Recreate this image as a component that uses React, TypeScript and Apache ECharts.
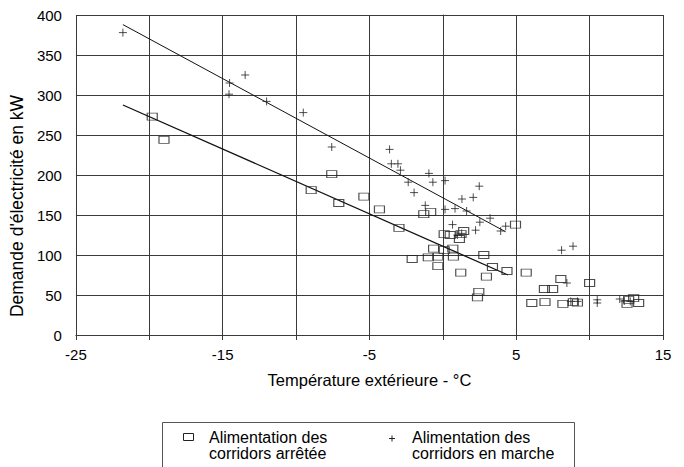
import React, { useEffect, useRef } from "react";
import * as echarts from "echarts";

const xTickValues = [-25, -15, -5, 5, 15];

const seriesNames = [
  "Alimentation des\ncorridors arrêtée",
  "Alimentation des\ncorridors en marche",
];

// [température °C, demande kW]
const corridorsArretee: [number, number][] = [
  [-19.8, 273], [-19.0, 244], [-8.97, 181], [-7.57, 201], [-7.09, 165],
  [-5.38, 173], [-4.32, 157], [-2.99, 134], [-1.3, 151], [-0.83, 154],
  [-0.63, 108], [-2.09, 95], [-0.99, 97], [-0.34, 98], [-0.34, 86],
  [0.09, 126], [0.5, 125], [1.24, 126], [1.13, 120], [1.42, 130],
  [0.09, 106], [0.68, 108], [0.72, 98], [2.79, 100], [3.38, 85],
  [4.37, 80], [1.22, 78], [2.97, 73], [4.95, 138], [5.68, 78],
  [2.45, 54], [2.36, 47], [6.06, 40], [6.96, 41], [8.04, 70],
  [10.0, 65], [6.92, 57.5], [7.48, 57.5], [8.18, 39], [8.89, 41],
  [9.17, 40.5], [12.55, 39], [12.66, 44], [13.0, 46], [13.34, 40],
];

const corridorsEnMarche: [number, number][] = [
  [-21.8, 378], [-14.53, 315], [-13.47, 325], [-14.57, 301], [-12.01, 292],
  [-9.51, 278], [-7.57, 235], [-3.63, 232], [-3.51, 214], [-3.06, 214],
  [-2.89, 206], [-2.36, 191], [-1.96, 178], [-0.95, 202], [-0.68, 191],
  [-1.2, 162], [0.15, 193], [2.48, 186], [1.3, 170], [2.07, 172],
  [0.15, 157], [0.83, 158], [1.62, 155], [2.52, 141], [3.22, 146],
  [0.66, 138], [2.23, 131], [4.28, 136], [3.94, 130], [0.99, 125],
  [1.28, 127], [8.09, 106], [8.87, 111], [8.45, 65], [8.72, 42],
  [9.17, 42], [10.52, 44], [10.52, 40], [12.05, 45], [12.36, 42.5],
  [12.77, 42],
];

// regression lines (end points)
const tendanceArretee: [number, number][] = [[-21.8, 287.5], [4.44, 75]];
const tendanceEnMarche: [number, number][] = [[-21.8, 388], [4.28, 129]];

const FONT = "'Liberation Sans', Arial, Helvetica, sans-serif";
const plusPath = "path://M0,5L10,5M5,0L5,10";

export default function App() {
  const ref = useRef<HTMLDivElement>(null);

  useEffect(() => {
    if (!ref.current) return;
    const chart = echarts.init(ref.current, undefined, { renderer: "svg" });
    const gridColor = "#3a3a3a";
    chart.setOption({
      animation: false,
      backgroundColor: "#ffffff",
      textStyle: { fontFamily: FONT, color: "#000" },
      grid: { left: 71, right: 21, top: 15, bottom: 132 },
      xAxis: {
        type: "value",
        min: -25,
        max: 15,
        interval: 5,
        name: "Température extérieure - °C",
        nameLocation: "middle",
        nameGap: 36,
        nameTextStyle: { fontSize: 16.5, color: "#000", fontFamily: FONT },
        axisLine: { show: true, onZero: false, lineStyle: { color: gridColor, width: 1 } },
        axisTick: { show: true, length: 5, lineStyle: { color: gridColor } },
        axisLabel: {
          fontSize: 15,
          color: "#000",
          margin: 12,
          fontFamily: FONT,
          formatter: (v: number) => (xTickValues.includes(v) ? String(v) : ""),
        },
        splitLine: { show: true, lineStyle: { color: gridColor, width: 1 } },
      },
      yAxis: {
        type: "value",
        min: 0,
        max: 400,
        interval: 50,
        name: "Demande d'électricité en kW",
        nameLocation: "middle",
        nameGap: 40,
        nameTextStyle: { fontSize: 17.5, color: "#000", fontFamily: FONT, padding: [0, 62, 0, 0] },
        axisLine: { show: true, lineStyle: { color: gridColor, width: 1 } },
        axisTick: { show: true, length: 5, lineStyle: { color: gridColor } },
        axisLabel: { fontSize: 15, color: "#000", margin: 14, fontFamily: FONT },
        splitLine: { show: true, lineStyle: { color: gridColor, width: 1 } },
      },
      series: [
        {
          name: seriesNames[0],
          type: "scatter",
          symbol: "rect",
          symbolSize: [10, 7],
          itemStyle: { color: "rgba(0,0,0,0)", borderColor: "#222", borderWidth: 1 },
          data: corridorsArretee,
          z: 3,
        },
        {
          name: seriesNames[1],
          type: "scatter",
          symbol: plusPath,
          symbolSize: 8,
          itemStyle: { color: "none", borderColor: "#222", borderWidth: 1 },
          data: corridorsEnMarche,
          z: 3,
        },
        {
          type: "line",
          data: tendanceArretee,
          showSymbol: false,
          lineStyle: { color: "#111", width: 1.3 },
          silent: true,
          z: 2,
        },
        {
          type: "line",
          data: tendanceEnMarche,
          showSymbol: false,
          lineStyle: { color: "#111", width: 1 },
          silent: true,
          z: 2,
        },
      ],
      graphic: [
        {
          type: "rect",
          shape: { x: 162.5, y: 422.5, width: 412, height: 60 },
          style: { fill: "none", stroke: "#555", lineWidth: 1 },
        },
        {
          type: "rect",
          shape: { x: 183.5, y: 433.5, width: 10, height: 7 },
          style: { fill: "none", stroke: "#222", lineWidth: 1 },
        },
        {
          type: "line",
          shape: { x1: 389, y1: 438.5, x2: 395, y2: 438.5 },
          style: { stroke: "#222", lineWidth: 1 },
        },
        {
          type: "line",
          shape: { x1: 392, y1: 435.5, x2: 392, y2: 441.5 },
          style: { stroke: "#222", lineWidth: 1 },
        },
        {
          type: "text",
          x: 209,
          y: 429,
          style: {
            text: seriesNames[0],
            fontSize: 16,
            lineHeight: 16,
            fontFamily: FONT,
            fill: "#000",
          },
        },
        {
          type: "text",
          x: 412,
          y: 429,
          style: {
            text: seriesNames[1],
            fontSize: 16,
            lineHeight: 16,
            fontFamily: FONT,
            fill: "#000",
          },
        },
      ],
    });
    return () => chart.dispose();
  }, []);

  return (
    <div
      ref={ref}
      style={{ position: "absolute", left: 0, top: 0, width: 684, height: 467 }}
    />
  );
}
